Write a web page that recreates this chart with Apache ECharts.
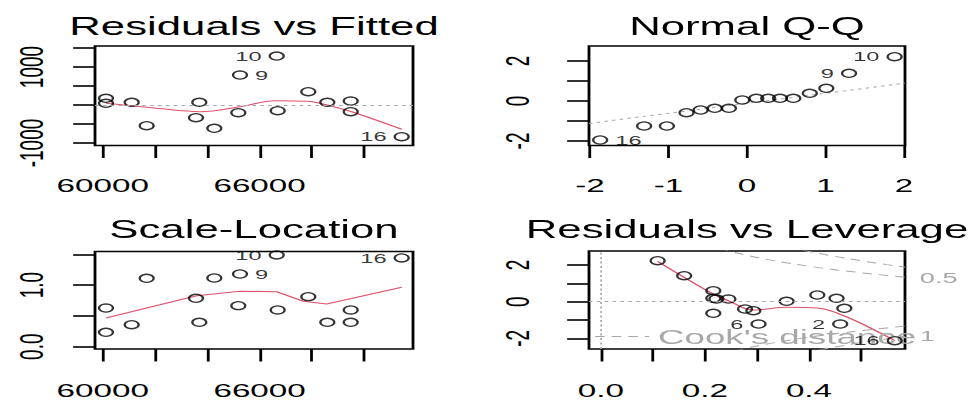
<!DOCTYPE html>
<html><head><meta charset="utf-8">
<script src="https://cdn.jsdelivr.net/npm/echarts@6/dist/echarts.min.js"></script>
<style>
html,body{margin:0;padding:0;background:#fff;overflow:hidden;}
#wrap{width:974px;height:402px;overflow:hidden;position:relative;}
#chart{width:556.571px;height:402px;transform:scaleX(1.75);transform-origin:0 0;}
</style></head><body><div id="wrap"><div id="chart"></div></div>
<script>
// ---------- data ----------
const panelTitles = ['Residuals vs Fitted', 'Normal Q-Q', 'Scale-Location', 'Residuals vs Leverage'];

// Residuals vs Fitted
const fittedVals  = [60126, 60126, 61109, 61682, 63694, 63567, 64268, 65250, 65186, 66654, 66692, 67862, 68589, 69484, 69484, 71434];
const residVals   = [176, 45, 71, -545, 71, -334, -613, 789, -203, 1289, -150, 350, 71, 105, -176, -834];
const residLabIdx = [7, 9, 15];
const residLabTxt = ['9', '10', '16'];
const residLabSide = ['right', 'left', 'left'];
const residSmoothX = [60126, 62065, 63721, 65250, 66589, 67801, 68692, 69583, 71434];
const residSmoothY = [45, -87, -176, -45, 113, 97, -18, -192, -640];
const fitTicks  = [60000, 62000, 64000, 66000, 68000, 70000];
const fitLabels = [60000, 66000];
const residTicks  = [-1000, -500, 0, 500, 1000, 1500];
const residLabels = [-1000, 1000];

// Normal Q-Q
const theoQuant = [-1.87, -1.31, -1.02, -0.77, -0.59, -0.41, -0.23, -0.06, 0.12, 0.27, 0.42, 0.59, 0.80, 1.01, 1.30, 1.88];
const stdResidSorted = [-1.95, -1.25, -1.25, -0.585, -0.45, -0.365, -0.365, 0.05, 0.135, 0.135, 0.135, 0.135, 0.385, 0.635, 1.385, 2.215];
const qqLabIdx = [0, 14, 15];
const qqLabTxt = ['16', '9', '10'];
const qqLabSide = ['right', 'left', 'left'];
const qqLineX = [-2.012, 2.012];
const qqLineY = [-1.121, 0.891];
const qqXTicks = [-2, -1, 0, 1, 2];
const qqYTicks = [-2, -1, 0, 1, 2];
const qqYLabels = [-2, 0, 2];

// Scale-Location
const sqrtStdResid = [0.628, 0.234, 0.357, 1.110, 0.396, 0.786, 1.115, 1.180, 0.666, 1.489, 0.596, 0.812, 0.396, 0.396, 0.596, 1.44];
const slLabIdx = [7, 9, 15];
const slLabTxt = ['9', '10', '16'];
const slLabSide = ['right', 'left', 'left'];
const slSmoothX = [60126, 63594, 65250, 66654, 67671, 68566, 71434];
const slSmoothY = [0.466, 0.828, 0.90, 0.893, 0.737, 0.693, 0.964];
const slYTicks = [0, 0.5, 1.0, 1.5];
const slYLabels = [0, 1.0];

// Residuals vs Leverage
const leverageVals = [0.109, 0.160, 0.216, 0.216, 0.245, 0.216, 0.277, 0.293, 0.303, 0.357, 0.416, 0.453, 0.468, 0.460, 0.565, 0.222];
const levStdResid  = [2.237, 1.418, 0.600, 0.185, 0.147, -0.633, -0.398, -0.491, -1.217, 0.022, 0.366, 0.185, -0.360, -1.217, -2.128, 0.147];
const levLabIdx = [8, 13, 14];
const levLabTxt = ['6', '2', '16'];
const levLabSide = ['left', 'left', 'left'];
const levSmoothX = [0.109, 0.160, 0.216, 0.245, 0.293, 0.357, 0.416, 0.474, 0.565];
const levSmoothY = [2.204, 1.331, 0.420, 0.055, -0.453, -0.306, -0.344, -0.851, -2.128];
const levXTicks = [0, 0.1, 0.2, 0.3, 0.4, 0.5];
const levXLabels = [0, 0.2, 0.4];
const levYTicks = [-2, -1, 0, 1, 2];
const levYLabels = [-2, 0, 2];
// Cook's distance contours (0.5 and 1), upper and lower
const cook05H = [0.20, 0.22, 0.25, 0.28, 0.30, 0.35, 0.40, 0.45, 0.50, 0.55, 0.585];
const cook05Up = [3.162, 2.977, 2.739, 2.536, 2.415, 2.155, 1.936, 1.748, 1.581, 1.430, 1.332];
const cook05Lo = [-3.162, -2.977, -2.739, -2.536, -2.415, -2.155, -1.936, -1.748, -1.581, -1.430, -1.332];
const cook1H = [0.33, 0.35, 0.38, 0.40, 0.45, 0.50, 0.55, 0.585];
const cook1Up = [3.186, 3.047, 2.856, 2.739, 2.472, 2.236, 2.023, 1.883];
const cook1Lo = [-3.186, -3.047, -2.856, -2.739, -2.472, -2.236, -2.023, -1.883];
const cookAxisVals = [1.332, -1.883];
const cookAxisTxt = ['0.5', '1'];

// ---------- chart ----------
const FONT = '"Liberation Sans", Arial, Helvetica, sans-serif';
const RED = '#DF536B';
const GRAY = '#a8a8a8';
const el = document.getElementById('chart');
const chart = echarts.init(el, null, {renderer: 'svg', width: 556.571, height: 402});

const plain = v => String(v);
const oneDec = v => Number(v).toFixed(1);

function mkX(gi, min, max, ticks, labels, fmt, margin) {
  return {type: 'value', gridIndex: gi, min: min, max: max, position: 'bottom',
    axisLine: {show: false, onZero: false},
    axisTick: {show: true, inside: false, length: 12.5, customValues: ticks, lineStyle: {color: '#000', width: 1.6}},
    axisLabel: {show: true, customValues: labels, formatter: fmt, margin: margin, color: '#000', fontSize: 19, fontFamily: FONT},
    splitLine: {show: false}};
}
function mkY(gi, min, max, ticks, labels, fmt, margin) {
  return {type: 'value', gridIndex: gi, min: min, max: max, position: 'left',
    axisLine: {show: false, onZero: false},
    axisTick: {show: true, inside: false, length: 12.5, customValues: ticks, lineStyle: {color: '#000', width: 1.6}},
    axisLabel: {show: true, rotate: 90, customValues: labels, formatter: fmt, margin: margin, color: '#000', fontSize: 19, fontFamily: FONT},
    splitLine: {show: false}};
}
function pts(xs, ys, labIdx, labTxt, labSide) {
  return xs.map((x, i) => {
    const item = {value: [x, ys[i]]};
    const k = labIdx.indexOf(i);
    if (k >= 0) {
      item.label = {show: true, formatter: labTxt[k], position: labSide[k], distance: 4,
        color: '#000', fontSize: 13.5, fontFamily: FONT};
    }
    return item;
  });
}
const zip = (a, b) => a.map((v, i) => [v, b[i]]);
function scatter(xi, data) {
  return {type: 'scatter', xAxisIndex: xi, yAxisIndex: xi, data: data, symbol: 'circle', symbolSize: 8,
    itemStyle: {color: 'rgba(0,0,0,0)', borderColor: '#000', borderWidth: 1.3}, silent: true, z: 4};
}
function line(xi, yi, data, color, type, width, smooth, name) {
  const s = {type: 'line', xAxisIndex: xi, yAxisIndex: yi, data: data, symbol: 'none', showSymbol: false,
    lineStyle: {color: color, type: type, width: width}, itemStyle: {color: color}, smooth: smooth, silent: true, z: 3};
  if (name) s.name = name;
  return s;
}
const zeroMark = (arr) => ({silent: true, symbol: ['none', 'none'], label: {show: false},
  lineStyle: {color: GRAY, type: [2, 2.5], width: 1}, data: arr});

const gridL = [54.29, 336.57, 54.29, 336.57];
const gridW = [181.71, 180.57, 181.71, 180.57];
const gridT = [46, 46, 251.5, 251];
const gridH = [99.5, 99.5, 97.5, 98];
const titleX = [145.14, 426.86, 145.14, 426.86];
const titleY = [14, 14, 217.5, 217.5];

const option = {
  animation: false,
  backgroundColor: '#fff',
  title: panelTitles.map((t, i) => ({text: t, left: titleX[i], top: titleY[i], textAlign: 'center', padding: 0,
    textStyle: {fontSize: 25, fontWeight: 'normal', color: '#000', fontFamily: FONT}})),
  legend: {data: ["Cook's distance"], left: 339.5, top: 326, padding: 0, itemWidth: 31, itemHeight: 12, itemGap: 0,
    selectedMode: false, itemStyle: {opacity: 0, borderWidth: 0},
    lineStyle: {color: GRAY, type: [5.5, 4], width: 1},
    textStyle: {color: GRAY, fontSize: 21, fontFamily: FONT, padding: [0, 0, 0, 0]}},
  grid: gridL.map((l, i) => ({left: l, top: gridT[i], width: gridW[i], height: gridH[i], show: true,
    borderColor: '#000', borderWidth: 1.6, backgroundColor: 'rgba(0,0,0,0)', containLabel: false})),
  xAxis: [
    mkX(0, 59706, 71866, fitTicks, fitLabels, plain, 30),
    mkX(1, -2.012, 2.012, qqXTicks, qqXTicks, plain, 30),
    mkX(2, 59706, 71866, fitTicks, fitLabels, plain, 32),
    mkX(3, -0.023, 0.5846, levXTicks, levXLabels, oneDec, 32)
  ],
  yAxis: [
    mkY(0, -1066, 1553, residTicks, residLabels, plain, 27),
    mkY(1, -2.225, 2.75, qqYTicks, qqYLabels, plain, 31.5),
    mkY(2, -0.037, 1.545, slYTicks, slYLabels, oneDec, 27),
    mkY(3, -2.58, 2.766, levYTicks, levYLabels, plain, 31.5),
    {type: 'value', gridIndex: 3, min: -2.58, max: 2.766, position: 'right',
      axisLine: {show: false, onZero: false}, axisTick: {show: false}, splitLine: {show: false},
      axisLabel: {show: true, customValues: cookAxisVals, margin: 8.5, color: GRAY, fontSize: 15.5, fontFamily: FONT,
        formatter: v => { let b = 0; cookAxisVals.forEach((c, i) => { if (Math.abs(c - v) < Math.abs(cookAxisVals[b] - v)) b = i; }); return cookAxisTxt[b]; }}}
  ],
  series: [
    // panel 1
    Object.assign(line(0, 0, zip(residSmoothX, residSmoothY), RED, 'solid', 1.1, 0.35),
      {markLine: zeroMark([{yAxis: 0}])}),
    scatter(0, pts(fittedVals, residVals, residLabIdx, residLabTxt, residLabSide)),
    // panel 2
    line(1, 1, zip(qqLineX, qqLineY), GRAY, [2, 2.5], 1, false),
    scatter(1, pts(theoQuant, stdResidSorted, qqLabIdx, qqLabTxt, qqLabSide)),
    // panel 3
    line(2, 2, zip(slSmoothX, slSmoothY), RED, 'solid', 1.1, false),
    scatter(2, pts(fittedVals, sqrtStdResid, slLabIdx, slLabTxt, slLabSide)),
    // panel 4
    line(3, 3, zip(cook05H, cook05Up), GRAY, [5.5, 4], 1, true, "Cook's distance"),
    line(3, 3, zip(cook05H, cook05Lo), GRAY, [5.5, 4], 1, true, "Cook's distance"),
    line(3, 3, zip(cook1H, cook1Up), GRAY, [5.5, 4], 1, true, "Cook's distance"),
    line(3, 3, zip(cook1H, cook1Lo), GRAY, [5.5, 4], 1, true, "Cook's distance"),
    Object.assign(line(3, 3, zip(levSmoothX, levSmoothY), RED, 'solid', 1.1, 0.35),
      {markLine: zeroMark([{yAxis: 0}, {xAxis: 0}])}),
    scatter(3, pts(leverageVals, levStdResid, levLabIdx, levLabTxt, levLabSide))
  ]
};
chart.setOption(option);
</script></body></html>
